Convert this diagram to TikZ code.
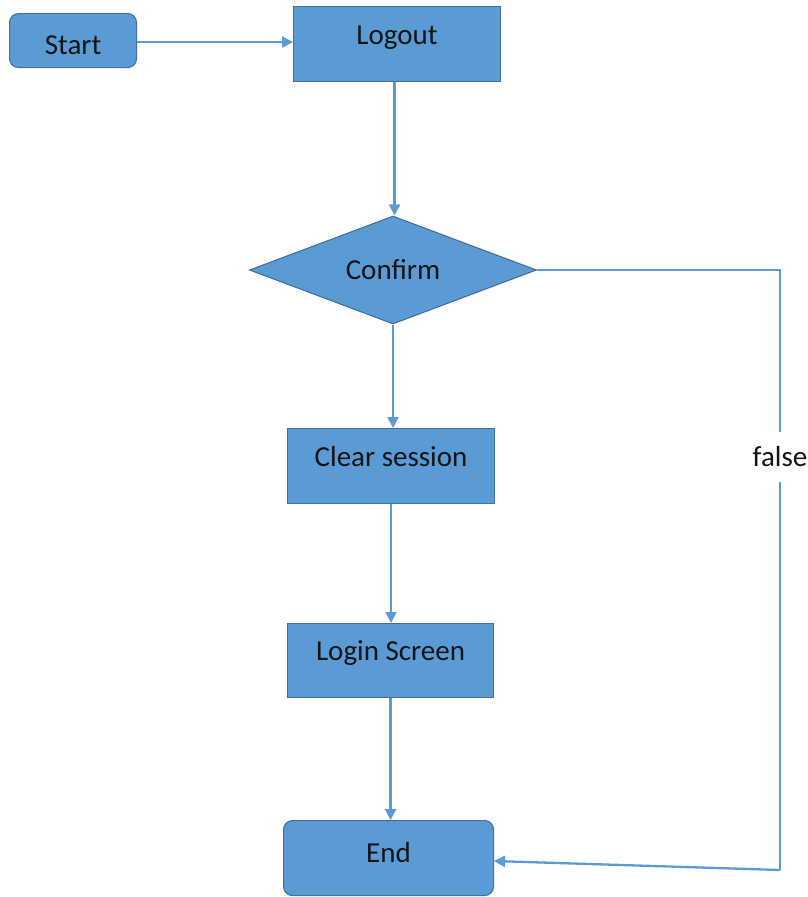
\documentclass[tikz,border=0pt]{standalone}
\usepackage{fontspec}
\setmainfont{Carlito}
\usetikzlibrary{shapes.geometric,arrows.meta}
\definecolor{boxfill}{HTML}{5B9BD5}
\definecolor{boxedge}{HTML}{41719C}
\definecolor{linecol}{HTML}{5B9BD5}
\definecolor{txtcol}{HTML}{151515}
\tikzset{
  lbl/.style={font=\fontsize{29}{34}\selectfont, text=txtcol},
  stepbox/.style={lbl, draw=boxedge, line width=1.1pt, fill=boxfill, inner sep=0pt, anchor=north west},
  termbox/.style={stepbox, rounded corners=9pt},
  decision/.style={lbl, diamond, draw=boxedge, line width=1.1pt, fill=boxfill, inner sep=0pt,
     minimum width=287pt, minimum height=108pt, aspect=2.66, text height=18pt, text depth=0pt},
  flow/.style={draw=linecol, line width=2.3pt, -{Triangle[length=11pt,width=11pt]}},
  plain/.style={draw=linecol, line width=2.3pt}
}
\begin{document}
\begin{tikzpicture}[x=1pt,y=-1pt]
\useasboundingbox (0,0) rectangle (808,897);
\node[termbox, minimum width=127pt, text height=41pt, text depth=13pt] (start) at (9,13) {Start};
\node[stepbox, minimum width=207pt, text height=38pt, text depth=37pt] (logout) at (293,6) {Logout};
\node[decision] (confirm) at (393,270) {Confirm};
\node[stepbox, minimum width=207pt, text height=38pt, text depth=37pt] (clear) at (287,428) {Clear session};
\node[stepbox, minimum width=206pt, text height=37pt, text depth=37pt] (login) at (287,623) {Login Screen};
\node[termbox, minimum width=210pt, text height=42pt, text depth=33pt] (end) at (283,820) {End};
\coordinate (ftop) at (780,270);
\coordinate (fbot) at (780,870);
\coordinate (endin) at (494,861);
\draw[flow] ([yshift=-1.5pt]start.east) -- ([yshift=-1.5pt]start.east -| logout.west);
\draw[flow] ([xshift=-2.5pt]logout.south) -- ([xshift=-2.5pt]logout.south |- confirm.north);
\draw[flow] (confirm.south) -- (confirm.south |- clear.north);
\draw[flow] (clear.south) -- (clear.south |- login.north);
\draw[flow] (login.south) -- (login.south |- end.north);
\draw[plain] (confirm.east) -- (ftop) -- (fbot);
\draw[flow] (fbot) -- (endin);
\node[lbl, fill=white, inner xsep=2pt, inner ysep=15pt] (false) at (780,457) {false};
\end{tikzpicture}
\end{document}
